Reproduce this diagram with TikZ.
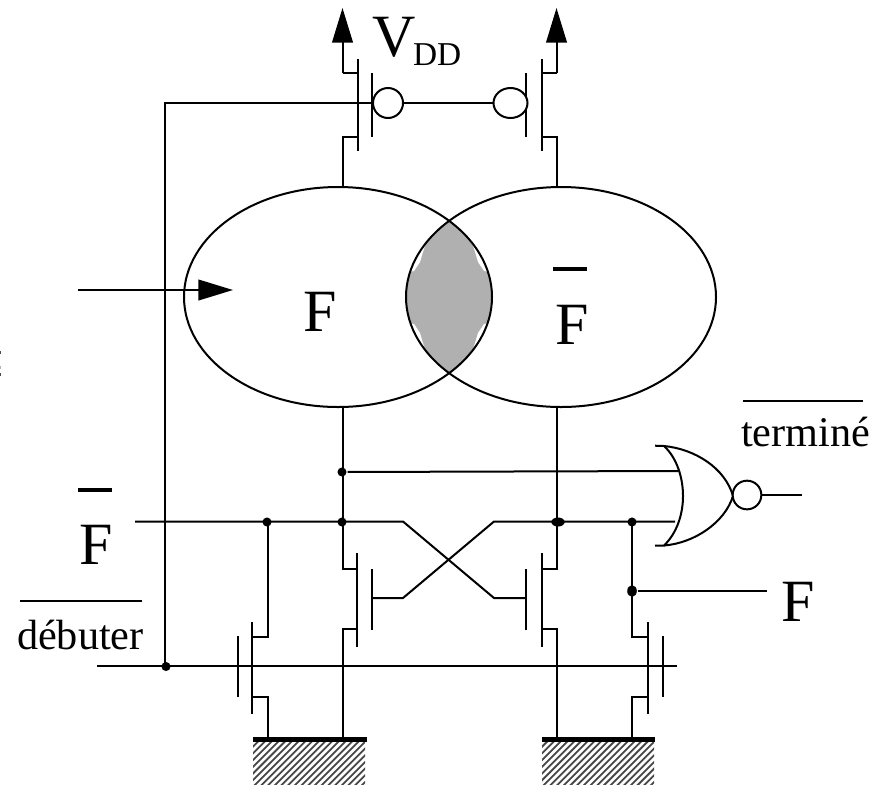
\documentclass[tikz,border=0pt]{standalone}
\usepackage{fontspec}
\setmainfont{Liberation Serif}
\usetikzlibrary{calc,shapes.geometric,arrows.meta}
\tikzset{
  jdot/.style={circle,fill=black,inner sep=0pt,minimum size=6.8pt},
  jdotw/.style={ellipse,fill=black,inner sep=0pt,minimum width=10pt,minimum height=6.8pt},
  jdotv/.style={ellipse,fill=black,inner sep=0pt,minimum width=7.2pt,minimum height=8.8pt},
  bigtext/.style={inner sep=0pt,font=\fontsize{45}{45}\selectfont},
  smalltext/.style={inner sep=0pt,font=\fontsize{31.7}{32}\selectfont},
  venn/.style={draw,ellipse,inner sep=0pt,line width=1.5pt},
  bubble/.style={draw,ellipse,inner sep=0pt,line width=1.5pt,fill=white},
  groundbar/.style={line width=3.8pt},
  thickbar/.style={line width=3.6pt},
  bigarrow/.style={-{Triangle[length=26pt,width=15.5pt]}},
  hatchline/.style={line width=1.35pt,black!72},
}
\begin{document}
\begin{tikzpicture}[x=0.75pt,y=-0.75pt,line width=1.5pt]
\useasboundingbox (0,0) rectangle (880,786);
% ground hatching
\foreach \gx in {253,542}{
  \begin{scope}
  \clip (\gx,742) rectangle ++(112,42);
  \foreach \k in {-50,-43.3,...,125}{
    \draw[hatchline] ({\gx+\k},790) -- ++(55,-55);
  }
  \end{scope}
}
% shaded lens
\begin{scope}
  \clip (338,297) ellipse [x radius=154,y radius=110];
  \fill[black!31] (561,297) ellipse [x radius=155,y radius=110];
\end{scope}
\foreach \sx in {1,-1}{\foreach \sy in {1,-1}{
  \fill[white] ($(449,297.5)+(\sx*-23,\sy*-54.5)$) -- ++(\sx*-3,\sy*9) -- ++(\sx*-3,\sy*10) -- ++(\sx*-6,\sy*9) -- ++(\sx*-6,\sy*1) -- ++(\sx*12,\sy*-29) -- cycle;
}}
% venn ellipses
\node[venn,minimum width=231pt,minimum height=165pt] (eF) at (338,297) {};
\node[venn,minimum width=232.5pt,minimum height=165pt] (eFb) at (561,297) {};
% supply arrows
\coordinate (vddL) at (342.5,8);
\coordinate (vddR) at (556.5,8);
\coordinate (srcL) at (342.5,73);
\coordinate (srcR) at (556.5,73);
\draw[bigarrow] (srcL) -- (vddL);
\draw[bigarrow] (srcR) -- (vddR);
% top transistors
\draw (srcL) -- (358,73);
\draw (srcR) -- (542,73);
\draw (358,59) -- (358,151);
\draw (542,59) -- (542,151);
\draw (342.5,187) |- (358,136.5);
\draw (556.5,187) |- (542,136.5);
\draw (372,73) -- (372,137);
\draw (526,73) -- (526,137);
\node[bubble,minimum width=22.5pt,minimum height=22.5pt] (bL) at (388,103) {};
\node[bubble,minimum width=25.5pt,minimum height=22.5pt] (bR) at (510.5,103) {};
\draw (bL) -- (bR);
% gate feed and debuter rail
\coordinate (gateL) at (372,103);
\coordinate (railStart) at (97,666);
\coordinate (railEnd) at (677,666);
\node[jdot] (dDeb) at (166,666.5) {};
\draw (gateL) -- (164.5,103) -- (164.5,666);
\draw (railStart) -- (railEnd);
% main verticals
\node[jdot] (dTop) at (342,472) {};
\node[jdot] (dMidL) at (342,522) {};
\node[jdotw] (dMidR) at (558,522) {};
\node[jdot] (dOr) at (632,522) {};
\node[jdotv] (dF) at (632,591) {};
\node[jdot] (dFb) at (267,522) {};
\draw (342.5,407) -- (342.5,569) -- (357,569);
\draw (556.5,407) -- (556.5,569) -- (542,569);
\draw (357,553) -- (357,647);
\draw (542,553) -- (542,647);
\draw (357,629) -| (342.5,737);
\draw (542,629) -| (556.5,737);
% cross-coupled
\draw (135,521.5) -- (403,521.5) -- (494,598) -- (526,598);
\draw (372,598) -- (403,598) -- (494,521.5) -- (675,521.5);
\draw (372,569) -- (372,630);
\draw (526,569) -- (526,630);
% foot transistors
\draw (268,522) -- (268,636.5) -- (252,636.5);
\draw (252,622) -- (252,714);
\draw (237.5,636) -- (237.5,697);
\draw (252,696.5) -| (268,737);
\draw (631.5,522) -- (631.5,636.5) -- (648,636.5);
\draw (648,622) -- (648,714);
\draw (662.5,636) -- (662.5,697);
\draw (648,696.5) -| (631.5,737);
% F output
\coordinate (outF) at (767,591);
\draw (dF) -- (outF);
% NOR gate
\draw (dTop) -- (678,471);
\draw (655,445.7) -- (664,446) .. controls (677,458) and (683,478) .. (683,496)
      .. controls (683,514) and (677,533) .. (664,545.5) -- (655,545.7);
\draw (664,446) .. controls (695,449) and (725,468) .. (733,496)
      .. controls (725,522) and (695,543) .. (664,545.5);
\node[bubble,minimum width=21.5pt,minimum height=21.5pt] (bNor) at (747,495) {};
\coordinate (norOut) at (802,495);
\draw (bNor) -- (norOut);
% ground bars
\draw[groundbar] (253,739.5) -- (367,739.5);
\draw[groundbar] (542,739.5) -- (655,739.5);
% input arrow
\coordinate (inA) at (78,290);
\coordinate (inB) at (233,290);
\draw[bigarrow] (inA) -- (inB);
% labels
\node[inner sep=0pt,anchor=base west,font=\fontsize{45}{45}\selectfont] (tV) at (371,56) {V};
\node[inner sep=0pt,anchor=base west,font=\fontsize{25}{25}\selectfont] (tDD) at (412,65) {DD};
\node[bigtext,anchor=base west] (tF1) at (302,331) {F};
\node[bigtext,anchor=base west] (tF2) at (554,344) {F};
\node[bigtext,anchor=base west] (tF3) at (78,564) {F};
\node[bigtext,anchor=base west] (tF4) at (780,621.5) {F};
\draw[thickbar] (553,269) -- (587,269);
\draw[thickbar] (78,490) -- (112,490);
\node[smalltext,anchor=base west] (tDeb) at (16,649) {débuter};
\draw (20,600.7) -- (142,600.7);
\node[smalltext,anchor=base west] (tTer) at (740,446.7) {terminé};
\draw (743,400.7) -- (863,400.7);
% cropped specks at left edge
\fill[black!70] (0,351) rectangle (1.2,354);
\fill[black!30] (0,366) rectangle (1.2,369);
\fill[black!70] (0,373) rectangle (1.2,376);
\end{tikzpicture}
\end{document}
